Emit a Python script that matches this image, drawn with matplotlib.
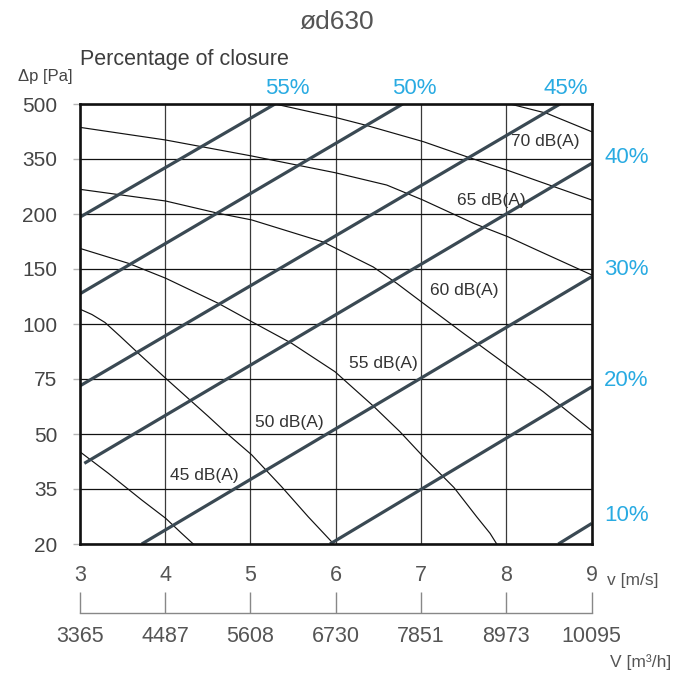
import numpy as np
import matplotlib
matplotlib.use("Agg")
import matplotlib.pyplot as plt

plt.rcParams['font.family'] = ['Liberation Sans', 'DejaVu Sans']

# ---------------- data ----------------
velocity_ticks = [3, 4, 5, 6, 7, 8, 9]                       # v [m/s]
volume_labels = ['3365', '4487', '5608', '6730', '7851', '8973', '10095']  # V [m3/h]
dp_ticks = [20, 35, 50, 75, 100, 150, 200, 350, 500]           # Δp [Pa]

# percentage-of-closure lines (start / end points, v [m/s] and Δp [Pa])
closure_labels = ['55%', '50%', '45%', '40%', '30%', '20%', '10%']
closure_v_start = [3.0, 3.0, 3.0, 3.054, 3.727, 5.933, 8.609]
closure_dp_start = [197.0, 127.3, 71.8, 42.0, 20.0, 20.0, 20.0]
closure_v_end = [5.289, 6.785, 8.629, 9.0, 9.0, 9.0, 9.0]
closure_dp_end = [500.0, 500.0, 500.0, 338.0, 143.0, 71.4, 25.6]

# sound level curves
db45_v = [3.0, 3.335, 3.727, 4.008, 4.195, 4.331]
db45_dp = [45.2, 39.3, 32.0, 27.0, 22.9, 20.0]

db50_v = [3.0, 3.144, 3.296, 3.472, 3.687, 4.008, 4.507, 4.703, 5.016, 5.367, 5.679, 5.953, 5.969]
db50_dp = [113.6, 108.6, 101.4, 94.5, 86.7, 75.3, 58.0, 51.0, 44.3, 35.6, 27.4, 20.6, 20.0]

db55_v = [3.0, 3.570, 4.008, 4.624, 5.016, 5.485, 5.992, 6.441, 6.754, 7.027, 7.386, 7.653, 7.809, 7.887]
db55_dp = [168.8, 155.2, 141.6, 118.8, 102.1, 91.2, 78.3, 62.7, 51.0, 43.8, 35.4, 27.4, 22.9, 20.0]

db60_v = [3.0, 4.008, 4.621, 5.016, 5.855, 6.441, 6.715, 7.027, 7.496, 8.004, 8.433, 9.0]
db60_dp = [267.4, 235.4, 202.0, 194.6, 174.5, 151.8, 137.0, 118.8, 95.8, 81.4, 69.2, 51.5]

db65_v = [3.0, 4.008, 5.016, 5.992, 6.598, 7.02, 7.613, 8.016, 8.356, 9.0]
db65_dp = [436.4, 401.8, 358.2, 312.7, 279.0, 238.3, 191.6, 179.4, 167.3, 144.6]

db70_v = [5.289, 5.992, 6.343, 7.027, 7.554, 8.004, 9.0]
db70_dp = [500.0, 463.7, 442.7, 397.3, 354.7, 320.0, 238.3]

db75_v = [8.043, 8.473, 9.0]
db75_dp = [500.0, 474.7, 424.4]

# ---------------- figure ----------------
W_PX, H_PX = 675, 674
fig = plt.figure(figsize=(W_PX / 100, H_PX / 100), dpi=100)
L = 79.7 / W_PX
Wd = 512.0 / W_PX
B = 1 - 544.0 / H_PX
Hd = 440.0 / H_PX
ax = fig.add_axes([L, B, Wd, Hd])

pos = np.arange(len(dp_ticks), dtype=float)


def fwd(y):
    return np.interp(y, dp_ticks, pos)


def inv(p):
    return np.interp(p, pos, dp_ticks)


ax.set_yscale('function', functions=(fwd, inv))
ax.set_xlim(3, 9)
ax.set_ylim(20, 500)
ax.set_xticks(velocity_ticks)
ax.set_xticklabels([str(v) for v in velocity_ticks])
ax.set_yticks(dp_ticks)
ax.set_yticklabels([str(d) for d in dp_ticks])
ax.minorticks_off()

ax.grid(True, axis='y', color='#111111', lw=0.9, zorder=1)
ax.grid(True, axis='x', color='#3a3a3a', lw=0.9, zorder=1)
ax.set_axisbelow(True)

ax.tick_params(axis='y', direction='out', length=5, width=1, color='#b5b5b5',
               pad=11, labelsize=15, labelcolor='#444444')
ax.tick_params(axis='x', length=0, pad=15, labelsize=15.5, labelcolor='#555555')

for s in ax.spines.values():
    s.set_linewidth(1.9)
    s.set_color('#111111')
    s.set_zorder(5)

# sound level curves
for vv, dd in [(db45_v, db45_dp), (db50_v, db50_dp), (db55_v, db55_dp),
               (db60_v, db60_dp), (db65_v, db65_dp), (db70_v, db70_dp),
               (db75_v, db75_dp)]:
    ax.plot(vv, dd, color='#111111', lw=0.85, zorder=2.5)

# closure lines
for i in range(len(closure_labels)):
    ax.plot([closure_v_start[i], closure_v_end[i]],
            [closure_dp_start[i], closure_dp_end[i]],
            color='#3a4953', lw=2.3, zorder=3, solid_capstyle='butt')

# dB labels
db_text = [('70 dB(A)', 8.453, 399), ('65 dB(A)', 7.826, 238),
           ('60 dB(A)', 7.501, 130), ('55 dB(A)', 6.558, 82.1),
           ('50 dB(A)', 5.453, 55.1), ('45 dB(A)', 4.463, 38.8)]
for t, x, y in db_text:
    ax.text(x, y, t, ha='center', va='center', fontsize=12.5, color='#333333', zorder=4)

# percentage labels
blue = '#29abe2'
top_pos = {'55%': 5.429, '50%': 6.918, '45%': 8.699}
for lab, x in top_pos.items():
    ax.text(x, 1.036, lab, transform=ax.get_xaxis_transform(), ha='center',
            va='center', fontsize=16, color=blue, clip_on=False)
right_pos = {'40%': 355.4, '30%': 149.1, '20%': 74.1, '10%': 27.9}
for lab, y in right_pos.items():
    ax.text(1.068, y, lab, transform=ax.get_yaxis_transform(), ha='center',
            va='center', fontsize=16, color=blue, clip_on=False)

# secondary (volume flow) axis
ax2 = fig.add_axes([L, 1 - 613.0 / H_PX, Wd, 0.02])
ax2.set_xlim(3, 9)
ax2.set_xticks(velocity_ticks)
ax2.set_xticklabels(volume_labels)
ax2.set_yticks([])
for s in ['top', 'left', 'right']:
    ax2.spines[s].set_visible(False)
ax2.spines['bottom'].set_color('#888888')
ax2.spines['bottom'].set_linewidth(1.0)
ax2.patch.set_visible(False)
ax2.tick_params(axis='x', direction='in', length=15, width=1, color='#888888',
                pad=9, labelsize=15.5, labelcolor='#555555')

# texts
fig.text(337 / W_PX, 1 - 22 / H_PX, 'ød630', ha='center', va='center',
         fontsize=19, color='#555555')
fig.text(80 / W_PX, 1 - 60 / H_PX, 'Percentage of closure', ha='left',
         va='center', fontsize=15.5, color='#3d3d3d')
fig.text(73 / W_PX, 1 - 76 / H_PX, 'Δp [Pa]', ha='right', va='center',
         fontsize=12, color='#444444')
fig.text(607 / W_PX, 1 - 581 / H_PX, 'v [m/s]', ha='left', va='center',
         fontsize=12.5, color='#555555')
fig.text(671 / W_PX, 1 - 662 / H_PX, 'V [m³/h]', ha='right', va='center',
         fontsize=12.5, color='#555555')

fig.savefig('out.png', dpi=100)
